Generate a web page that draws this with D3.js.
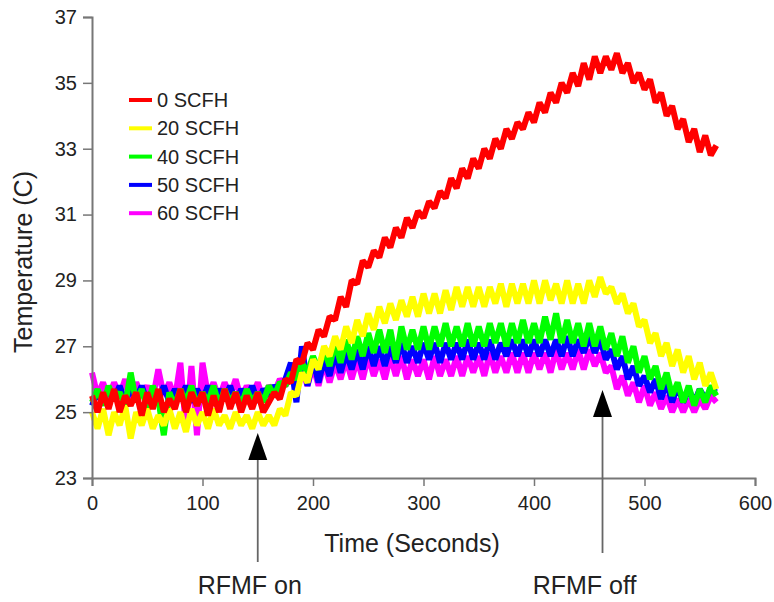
<!DOCTYPE html>
<html>
<head>
<meta charset="utf-8">
<script src="https://cdn.jsdelivr.net/npm/d3@7"></script>
<style>
  body { margin: 0; background: #fff; }
  text { font-family: "Liberation Sans", Arial, sans-serif; fill: #222; }
</style>
</head>
<body>
<script>
// sample times (seconds), one value every 5 s
var times = d3.range(0, 570, 5);

var seriesNames = ["0 SCFH", "20 SCFH", "40 SCFH", "50 SCFH", "60 SCFH"];
var seriesColors = ["#ff0000", "#ffff00", "#00ff00", "#0000ff", "#ff00ff"];

var xTicks = [0, 100, 200, 300, 400, 500, 600];
var yTicks = [23, 25, 27, 29, 31, 33, 35, 37];

var red = [25.5,25.0,25.6,25.1,25.7,25.0,25.5,25.2,25.6,24.9,25.6,25.1,25.7,25.0,25.4,25.1,25.7,25.0,25.6,25.2,
  25.6,24.9,25.5,25.0,25.7,25.1,25.6,25.0,25.5,25.1,25.6,25.0,25.3,25.6,25.4,26.0,25.9,26.6,26.5,27.1,
  26.9,27.5,27.3,27.9,27.8,28.5,28.2,29.0,28.9,29.6,29.4,29.9,29.7,30.3,30.0,30.6,30.3,30.9,30.6,31.1,
  30.9,31.4,31.2,31.7,31.5,32.1,31.8,32.4,32.1,32.7,32.4,33.0,32.7,33.3,33.0,33.6,33.3,33.8,33.6,34.1,
  33.8,34.4,34.1,34.7,34.4,35.0,34.7,35.3,34.9,35.6,35.1,35.8,35.3,35.8,35.4,35.9,35.3,35.6,35.0,35.3,
  34.8,35.1,34.4,34.7,34.0,34.3,33.6,33.9,33.2,33.6,32.9,33.4,32.8,33.1];

var yellow = [25.0,24.5,25.1,24.3,25.0,24.6,25.2,24.2,25.0,24.6,25.1,24.5,24.9,24.6,25.1,24.5,25.0,24.4,25.1,24.6,
  25.0,24.5,25.1,24.6,24.9,24.5,25.0,24.6,24.9,24.5,25.0,24.6,24.9,24.6,25.1,24.9,25.6,25.5,26.2,25.9,
  26.6,26.3,27.0,26.7,27.3,26.9,27.6,27.1,27.8,27.3,28.0,27.5,28.2,27.7,28.3,27.8,28.4,27.9,28.5,27.9,
  28.6,28.0,28.6,28.0,28.7,28.1,28.8,28.2,28.8,28.2,28.8,28.2,28.8,28.3,28.9,28.2,28.9,28.3,28.9,28.3,
  29.0,28.3,29.0,28.4,28.9,28.3,29.0,28.3,28.9,28.3,29.0,28.5,29.1,28.6,28.8,28.3,28.6,28.0,28.3,27.6,
  27.8,27.1,27.4,26.7,27.1,26.4,26.9,26.2,26.7,26.0,26.5,25.8,26.2,25.7];

var green = [25.3,25.7,25.2,25.8,25.4,25.6,25.2,26.2,25.3,25.7,25.1,25.8,25.4,24.3,25.6,25.2,25.7,25.3,25.8,25.2,
  25.6,25.3,25.8,25.2,25.7,25.3,25.6,25.2,25.7,25.3,25.6,25.3,25.8,25.5,25.9,25.8,26.2,26.0,26.5,26.2,
  26.7,26.3,26.9,26.4,27.1,26.5,27.2,26.6,27.3,26.7,27.4,26.8,27.5,26.8,27.5,26.6,27.6,26.9,27.5,26.9,
  27.6,26.9,27.6,27.0,27.7,27.0,27.6,27.0,27.7,27.0,27.6,27.0,27.7,27.1,27.7,27.0,27.7,27.1,27.8,27.1,
  27.7,27.1,27.9,27.2,28.0,27.1,27.8,27.1,27.7,27.0,27.7,27.0,27.6,26.9,27.4,26.7,27.3,26.5,27.0,26.2,
  26.7,26.0,26.4,25.7,26.2,25.5,25.9,25.3,25.8,25.2,25.7,25.3,25.8,25.5];

var blue = [25.2,25.6,25.3,25.7,25.4,25.8,25.3,25.7,25.4,25.8,25.3,25.7,25.4,25.8,25.3,25.7,25.4,25.8,25.3,25.7,
  25.4,25.8,25.3,25.7,25.4,25.8,25.3,25.7,25.4,25.8,25.3,25.7,25.5,25.8,25.6,26.0,26.5,25.3,27.0,25.8,
  26.6,25.9,26.6,26.1,26.8,26.2,26.8,26.3,26.9,26.3,27.0,26.4,27.0,26.4,27.0,26.5,27.1,26.5,27.0,26.5,
  27.1,26.6,27.1,26.5,27.1,26.6,27.1,26.6,27.2,26.6,27.1,26.6,27.2,26.6,27.1,26.7,27.2,26.7,27.2,26.7,
  27.2,26.7,27.2,26.7,27.2,26.7,27.3,26.7,27.2,26.8,27.3,26.8,27.2,26.6,26.9,26.3,26.7,26.0,26.4,25.8,
  26.1,25.6,26.0,25.4,25.9,25.3,25.8,25.3,25.7,25.3,25.7,25.4,25.7,25.6];

var magenta = [26.2,25.5,25.9,25.4,25.9,25.5,26.0,25.4,25.9,25.5,25.8,25.4,26.3,25.5,25.9,25.4,26.5,24.5,26.4,24.3,
  26.5,25.5,25.9,25.4,25.9,25.5,26.0,25.4,25.8,25.5,25.9,25.4,25.8,25.6,26.0,25.8,26.1,25.9,26.3,25.8,
  26.4,25.8,26.5,25.9,26.5,26.0,26.6,26.0,26.6,26.0,26.7,26.1,26.6,26.0,26.7,26.1,26.7,26.0,26.6,26.1,
  26.6,26.0,26.7,26.1,26.6,26.1,26.7,26.1,26.7,26.2,26.7,26.1,26.8,26.2,26.7,26.2,26.8,26.2,26.8,26.2,
  26.8,26.3,26.8,26.2,26.9,26.3,26.8,26.3,26.9,26.3,26.9,26.4,26.8,26.2,26.4,25.7,26.1,25.5,25.9,25.3,
  25.8,25.2,25.6,25.1,25.5,25.0,25.4,25.0,25.4,25.0,25.4,25.1,25.5,25.3];

var allSeries = [red, yellow, green, blue, magenta];

// arrows: "RFMF on" / "RFMF off"
var markerTimes = [150, 462];
var markerLabels = ["RFMF on", "RFMF off"];

var margin = {top: 17, right: 19, bottom: 124, left: 92},
    width = 774 - margin.left - margin.right,
    height = 602 - margin.top - margin.bottom;

var svg = d3.select("body").append("svg")
    .attr("width", 774)
    .attr("height", 602)
  .append("g")
    .attr("transform", "translate(" + margin.left + "," + margin.top + ")");

var x = d3.scaleLinear().domain([0, 600]).range([0, width]);
var y = d3.scaleLinear().domain([23, 37]).range([height, 0]);

// lines, 60 SCFH first so red ends on top
var line = d3.line()
    .x(function(d, i) { return x(times[i]); })
    .y(function(d) { return y(d); });

d3.range(allSeries.length).reverse().forEach(function(k) {
  svg.append("path")
      .datum(allSeries[k])
      .attr("fill", "none")
      .attr("stroke", seriesColors[k])
      .attr("stroke-width", 6)
      .attr("stroke-linejoin", "bevel")
      .attr("d", line);
});

// axes
var xAxis = svg.append("g")
    .attr("transform", "translate(0," + height + ")")
    .call(d3.axisBottom(x).tickValues(xTicks).tickSize(8).tickPadding(5));
var yAxis = svg.append("g")
    .call(d3.axisLeft(y).tickValues(yTicks).tickSize(9).tickPadding(6));

[xAxis, yAxis].forEach(function(a) {
  a.select(".domain").attr("stroke", "#777").attr("stroke-width", 2);
  a.selectAll(".tick line").attr("stroke", "#777").attr("stroke-width", 1.5);
  a.selectAll(".tick text").style("font-size", "20px").attr("fill", "#222")
      .style("font-family", "Liberation Sans, Arial, sans-serif");
});
xAxis.selectAll(".tick text").attr("dy", "0.95em");

// axis titles
svg.append("text")
    .attr("x", 320)
    .attr("y", 535)
    .attr("text-anchor", "middle")
    .style("font-size", "25px")
    .text("Time (Seconds)");

svg.append("text")
    .attr("transform", "rotate(-90)")
    .attr("x", -245)
    .attr("y", -60)
    .attr("text-anchor", "middle")
    .style("font-size", "25px")
    .text("Temperature (C)");

// arrows
var arrowTip = [24.37, 25.67];
var arrowBottom = [562, 553];
markerTimes.forEach(function(t, i) {
  var tipY = y(arrowTip[i]);
  svg.append("line")
      .attr("x1", x(t)).attr("x2", x(t))
      .attr("y1", tipY + 20).attr("y2", arrowBottom[i] - margin.top)
      .attr("stroke", "#666").attr("stroke-width", 1.8);
  svg.append("path")
      .attr("d", "M" + x(t) + "," + tipY + "L" + (x(t) - 9.5) + "," + (tipY + 27) +
                 "L" + (x(t) + 9.5) + "," + (tipY + 27) + "Z")
      .attr("fill", "#000");
  svg.append("text")
      .attr("x", x(t) - (i == 0 ? 8 : 18))
      .attr("y", 594 - margin.top)
      .attr("text-anchor", "middle")
      .style("font-size", "25px")
      .text(markerLabels[i]);
});

// legend
var legend = svg.append("g").attr("transform", "translate(37,83)");
seriesNames.forEach(function(name, i) {
  legend.append("line")
      .attr("x1", 0).attr("x2", 23)
      .attr("y1", i * 28.3).attr("y2", i * 28.3)
      .attr("stroke", seriesColors[i]).attr("stroke-width", 4);
  legend.append("text")
      .attr("x", 28)
      .attr("y", i * 28.3 + 7)
      .style("font-size", "20px")
      .text(name);
});
</script>
</body>
</html>
